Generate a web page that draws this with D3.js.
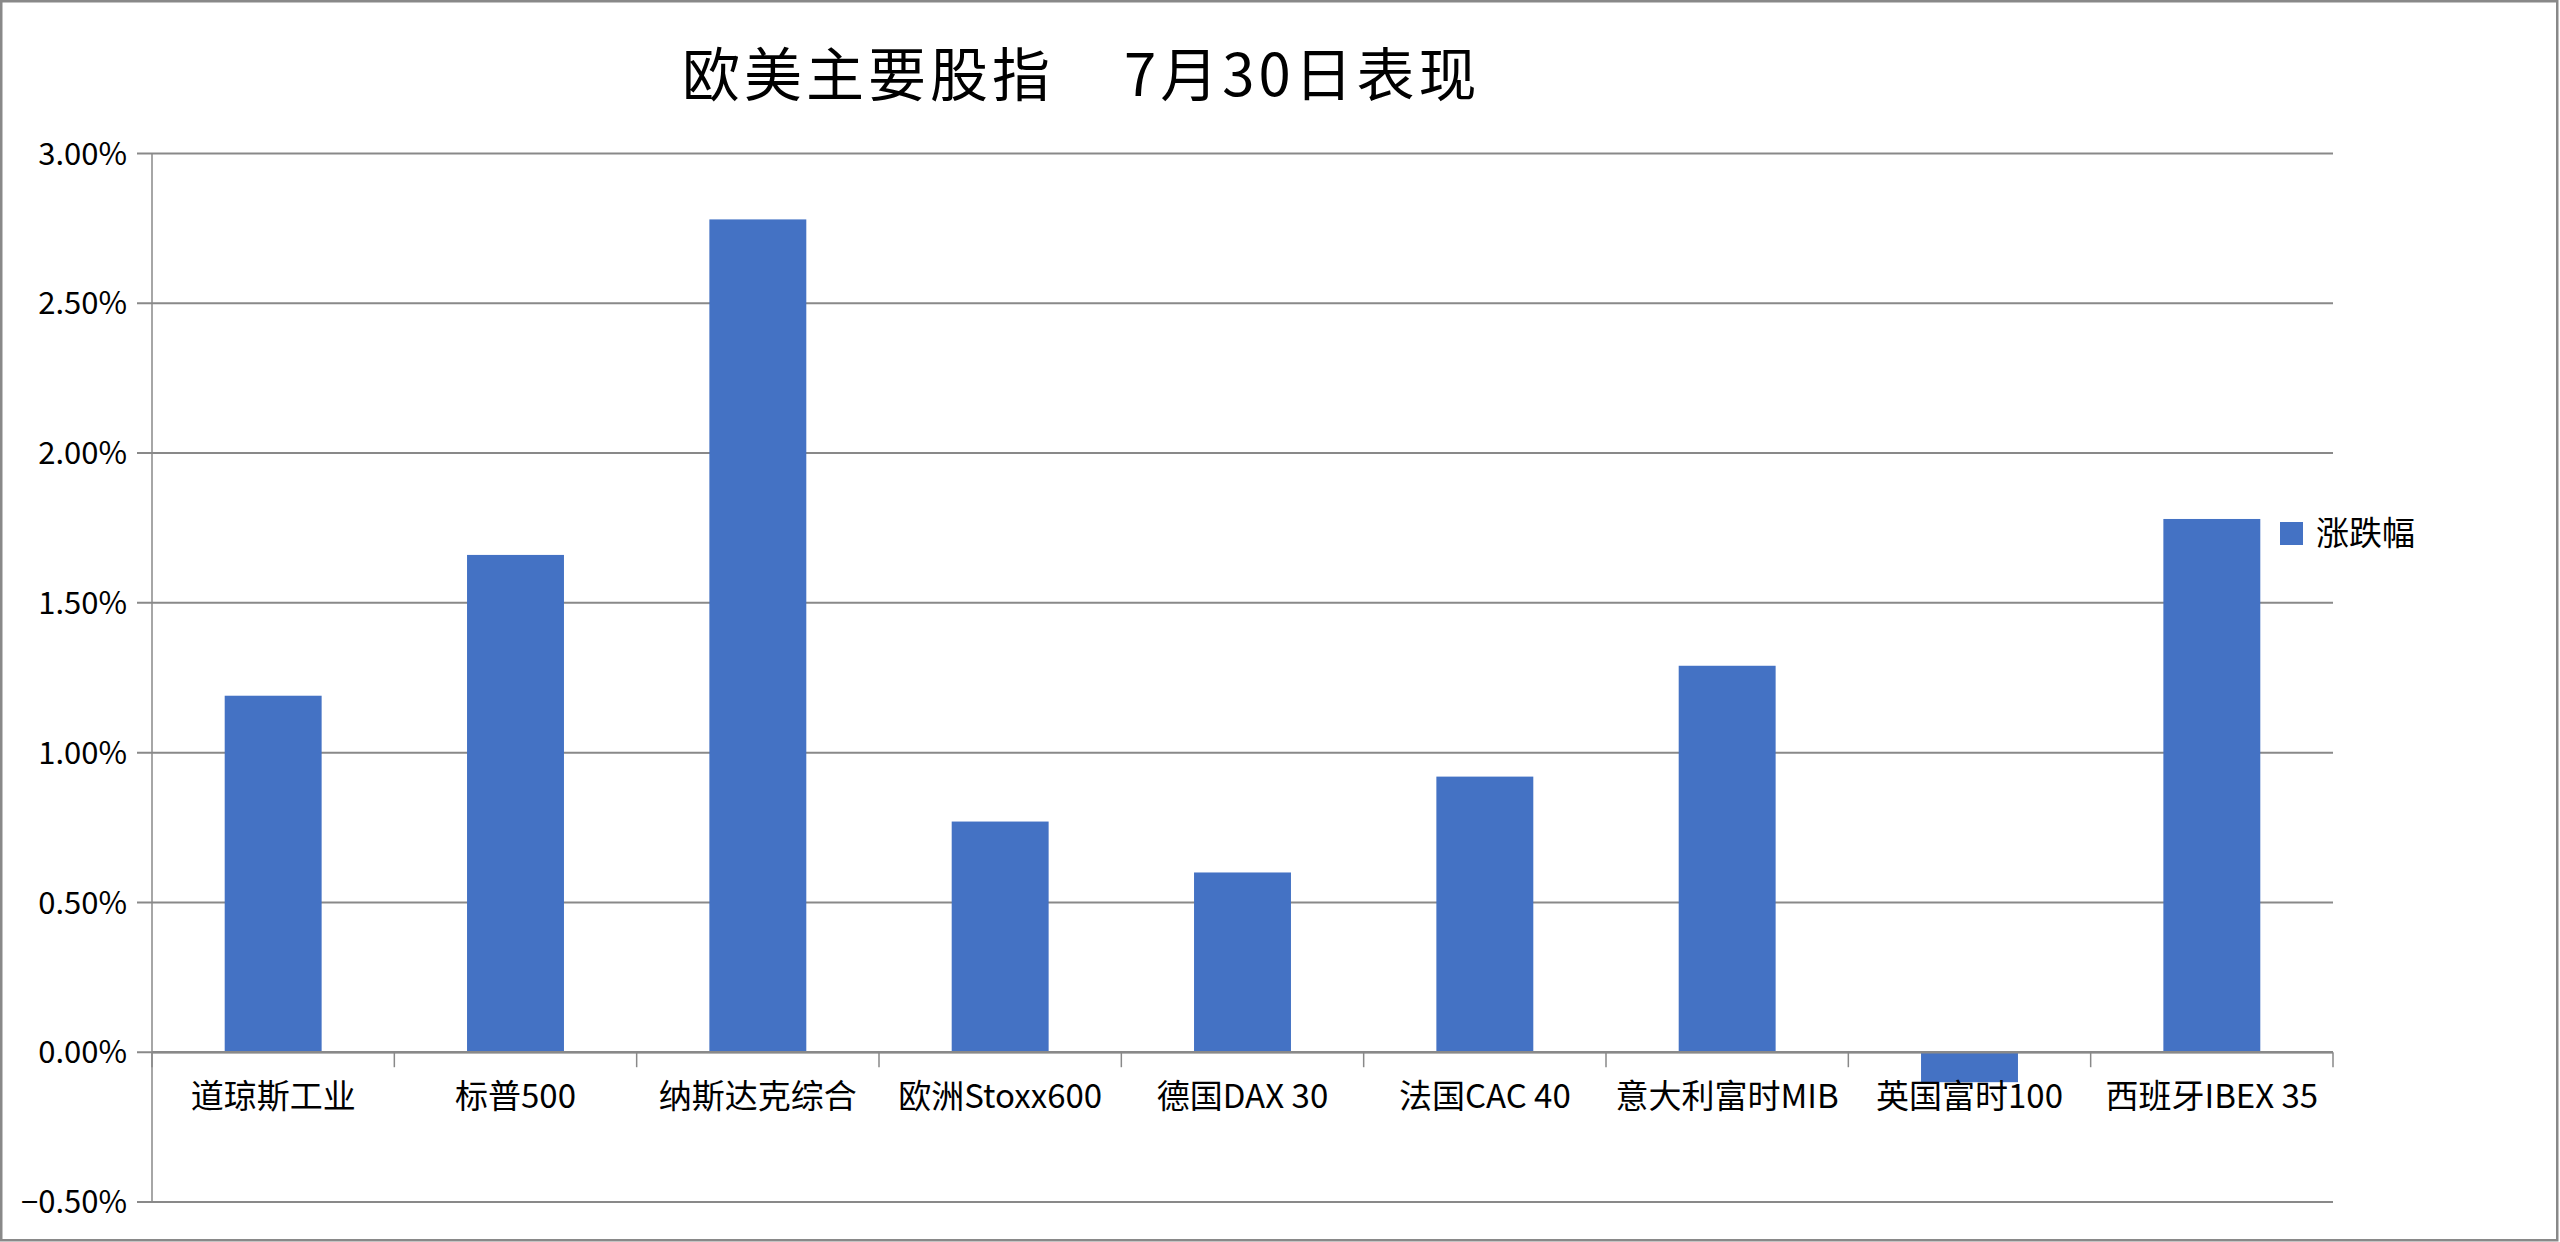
<!DOCTYPE html>
<html>
<head>
<meta charset="utf-8">
<script src="https://cdn.jsdelivr.net/npm/d3@7"></script>
<style>
	body { margin: 0; background: #fff; }
	text { font-family: "Noto Sans CJK SC", "Noto Sans", sans-serif; fill: #000; }
</style>
</head>
<body>
<div id="container"></div>
<script>
// data
const categories = ["道琼斯工业", "标普500", "纳斯达克综合", "欧洲Stoxx600", "德国DAX 30", "法国CAC 40", "意大利富时MIB", "英国富时100", "西班牙IBEX 35"]
const changes = [1.19, 1.66, 2.78, 0.77, 0.60, 0.92, 1.29, -0.10, 1.78]
const yTicks = [-0.5, 0, 0.5, 1.0, 1.5, 2.0, 2.5, 3.0]
const seriesName = "涨跌幅"
const titleMain = "欧美主要股指"
const titleDate = "7月30日表现"

const width = 2560
const height = 1242
const gridColor = "#898989"
const barColor = "#4472C4"

const svg = d3.select("#container")
	.append("svg")
	.attr("width", width)
	.attr("height", height)

// outer frame
svg.append("rect")
	.attr("x", 1.25).attr("y", 1.25)
	.attr("width", width - 4).attr("height", height - 3)
	.attr("fill", "#fff")
	.attr("stroke", gridColor)
	.attr("stroke-width", 2.5)

const x = d3.scaleBand()
	.domain(categories)
	.range([152, 2333])
	.paddingInner(0.6)
	.paddingOuter(0.3)

const y = d3.scaleLinear()
	.domain([d3.min(yTicks), d3.max(yTicks)])
	.range([1202, 153.5])

// title
const title = svg.append("text")
	.attr("x", 682)
	.attr("y", 96)
	.style("font-size", "58px")
	.style("letter-spacing", "4px")
title.append("tspan").text(titleMain)
title.append("tspan").attr("dx", 70).text(titleDate)

// gridlines
svg.append("g")
	.selectAll("line")
	.data(yTicks)
	.join("line")
	.attr("x1", 137)
	.attr("x2", x.range()[1])
	.attr("y1", d => y(d))
	.attr("y2", d => y(d))
	.attr("stroke", gridColor)
	.attr("stroke-width", 2)

// y axis line
svg.append("line")
	.attr("x1", x.range()[0]).attr("x2", x.range()[0])
	.attr("y1", y(d3.max(yTicks))).attr("y2", y(d3.min(yTicks)))
	.attr("stroke", gridColor)
	.attr("stroke-width", 1.5)

// y tick labels
svg.append("g")
	.selectAll("text")
	.data(yTicks)
	.join("text")
	.attr("x", 127)
	.attr("y", d => y(d))
	.attr("dy", "0.36em")
	.attr("text-anchor", "end")
	.style("font-size", "31px")
	.text(d => d3.format(".2f")(d) + "%")

// bars
svg.append("g")
	.selectAll("rect")
	.data(changes)
	.join("rect")
	.attr("x", (d, i) => x(categories[i]))
	.attr("width", x.bandwidth())
	.attr("y", d => y(Math.max(0, d)))
	.attr("height", d => Math.abs(y(d) - y(0)))
	.attr("fill", barColor)

// zero axis with category ticks
svg.append("line")
	.attr("x1", x.range()[0]).attr("x2", x.range()[1])
	.attr("y1", y(0)).attr("y2", y(0))
	.attr("stroke", gridColor)
	.attr("stroke-width", 2.5)

svg.append("g")
	.selectAll("line")
	.data(d3.range(categories.length + 1))
	.join("line")
	.attr("x1", i => x.range()[0] + i * x.step())
	.attr("x2", i => x.range()[0] + i * x.step())
	.attr("y1", y(0))
	.attr("y2", y(0) + 15)
	.attr("stroke", gridColor)
	.attr("stroke-width", 1.5)

// category labels
svg.append("g")
	.selectAll("text")
	.data(categories)
	.join("text")
	.attr("x", d => x(d) + x.bandwidth() / 2)
	.attr("y", 1108)
	.attr("text-anchor", "middle")
	.style("font-size", "33px")
	.text(d => d)

// legend
const legend = svg.append("g")
legend.append("rect")
	.attr("x", 2280).attr("y", 522)
	.attr("width", 23).attr("height", 23)
	.attr("fill", barColor)
legend.append("text")
	.attr("x", 2316)
	.attr("y", 545)
	.style("font-size", "33px")
	.text(seriesName)
</script>
</body>
</html>
